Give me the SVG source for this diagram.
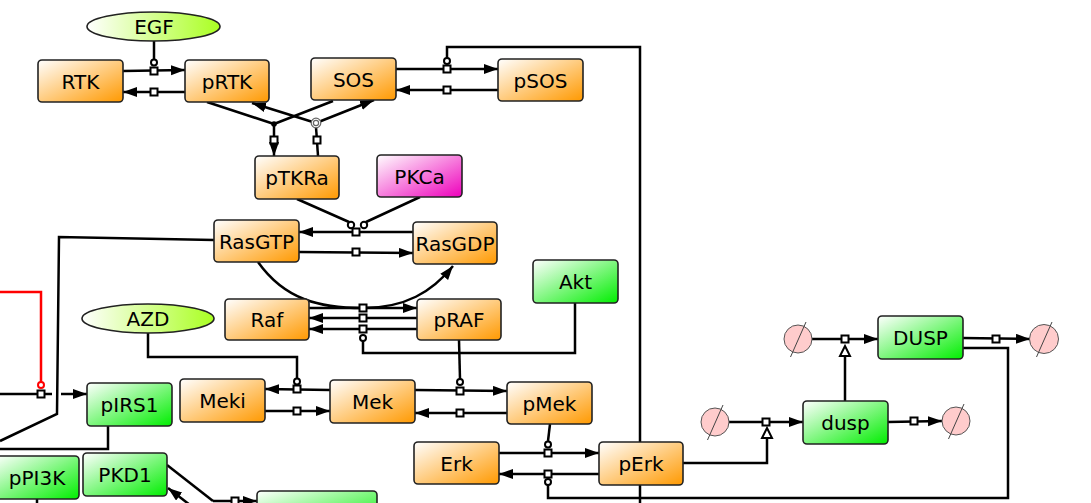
<svg xmlns="http://www.w3.org/2000/svg" width="1091" height="503" viewBox="0 0 1091 503">
<defs>
<linearGradient id="gOr" x1="0" y1="0" x2="1" y2="1"><stop offset="0" stop-color="#ffffff"/><stop offset="1" stop-color="#ff9900"/></linearGradient>
<linearGradient id="gGr" x1="0" y1="0" x2="1" y2="1"><stop offset="0" stop-color="#ffffff"/><stop offset="1" stop-color="#00ee00"/></linearGradient>
<linearGradient id="gMa" x1="0" y1="0" x2="1" y2="1"><stop offset="0" stop-color="#ffffff"/><stop offset="1" stop-color="#ee00bb"/></linearGradient>
<linearGradient id="gEl" x1="0" y1="0" x2="1" y2="0"><stop offset="0" stop-color="#ffffff"/><stop offset="1" stop-color="#aaff22"/></linearGradient>
<marker id="arr" markerUnits="userSpaceOnUse" markerWidth="15" markerHeight="11" refX="14" refY="5" orient="auto"><path d="M0,0 L14,5 L0,10 z" fill="#000"/></marker>
</defs>
<style>
.n rect{stroke:#222;stroke-width:1.6}
.or{fill:url(#gOr)}.gr{fill:url(#gGr)}.ma{fill:url(#gMa)}
.el{fill:url(#gEl);stroke:#222;stroke-width:1.6}
text{font-family:"DejaVu Sans",sans-serif;font-size:20px;text-anchor:middle;fill:#000}
.c path,.c line{fill:none;stroke:#000;stroke-width:2.5}
.a{marker-end:url(#arr)}
.sq{fill:#fff;stroke:#000;stroke-width:2}
.ci{fill:#fff;stroke:#000;stroke-width:2}
.dg circle{fill:#ffcccc;stroke:#555;stroke-width:1}
.dg line{stroke:#444;stroke-width:1}
</style>

<g id="connectors" class="c">
<!-- RTK / pRTK -->
<path class="a" d="M123,71 L185,70"/>
<path d="M154,41 L154,59"/>
<path class="a" d="M185,92 L123,92"/>
<!-- SOS / pSOS -->
<path class="a" d="M396,69 L498,69"/>
<path d="M447,58 L447,47 L640,47 L640,442"/>
<path class="a" d="M498,90 L396,90"/>
<!-- association -->
<path d="M207,102 L274,124 M333,101 L274,124"/>
<path class="a" d="M274,124 L274,156"/>
<!-- dissociation -->
<path d="M318,156 L316,127"/>
<path class="a" d="M316,123 L252,103"/>
<path class="a" d="M316,123 L374,100"/>
<!-- Ras -->
<path class="a" d="M413,232 L299,232"/>
<path d="M297,199 L349,222 M420,197 L366,222"/>
<path class="a" d="M299,252 L413,253"/>
<!-- Raf / pRAF -->
<path class="a" d="M309,308 L417,308"/>
<path d="M258,262 C285,300 320,308 363,308"/>
<path class="a" d="M363,308 C405,308 432,292 453,266"/>
<path class="a" d="M417,318 L309,318"/>
<path class="a" d="M417,329 L309,329"/>
<path d="M363,341 L363,353 L575,353 L575,303"/>
<!-- AZD / Meki / Mek -->
<path d="M148,333 L148,357 L297,357 L297,378"/>
<path class="a" d="M330,390 L265,389"/>
<path class="a" d="M265,411 L330,411"/>
<!-- Mek / pMek -->
<path class="a" d="M415,390 L507,391"/>
<path d="M459,340 L460,379"/>
<path class="a" d="M507,413 L415,413"/>
<!-- Erk / pErk -->
<path class="a" d="M499,453 L599,453"/>
<path d="M550,424 L548,441"/>
<path class="a" d="M599,474 L499,474"/>
<path d="M640,485 L640,503"/>
<path d="M548,485 L548,498 L1008,498 L1008,348 L963,348"/>
<!-- dusp -->
<path class="a" d="M729,422 L803,422"/>
<path d="M683,463 L767,463 L767,438"/>
<path class="a" d="M888,422 L942,421"/>
<!-- DUSP -->
<path class="a" d="M812,339 L878,339"/>
<path d="M845,401 L845,356"/>
<path class="a" d="M963,338 L1030,339"/>
<!-- left side -->
<path d="M214,240 L59,237 L57,414 L0,441"/>
<path d="M0,292 L41,292 L41,382" style="stroke:#ff0000"/>
<path d="M0,394 L52,394"/>
<path class="a" d="M61,394 L87,394"/>
<path d="M108,426 L108,449 L0,449"/>
<path d="M37,499 L37,503"/>
<!-- PKD1 -->
<path d="M167,465 L213,501"/>
<path class="a" d="M213,501 L257,501"/>
<path class="a" d="M190,505 L168,488"/>

<!-- process squares -->
<rect class="sq" x="150.5" y="67.5" width="7" height="7"/>
<rect class="sq" x="150.5" y="88.5" width="7" height="7"/>
<rect class="sq" x="443.5" y="65.5" width="7" height="7"/>
<rect class="sq" x="443.5" y="86.5" width="7" height="7"/>
<rect class="sq" x="270.5" y="136.5" width="7" height="7"/>
<rect class="sq" x="313.5" y="136.5" width="7" height="7"/>
<rect class="sq" x="352.5" y="228.5" width="7" height="7"/>
<rect class="sq" x="352.5" y="248.5" width="7" height="7"/>
<rect class="sq" x="359.5" y="304.5" width="7" height="7"/>
<rect class="sq" x="359.5" y="314.5" width="7" height="7"/>
<rect class="sq" x="359.5" y="325.5" width="7" height="7"/>
<rect class="sq" x="293.5" y="385.5" width="7" height="7"/>
<rect class="sq" x="293.5" y="407.5" width="7" height="7"/>
<rect class="sq" x="456.5" y="387.5" width="7" height="7"/>
<rect class="sq" x="456.5" y="409.5" width="7" height="7"/>
<rect class="sq" x="544.5" y="449.5" width="7" height="7"/>
<rect class="sq" x="544.5" y="470.5" width="7" height="7"/>
<rect class="sq" x="762.5" y="418.5" width="7" height="7"/>
<rect class="sq" x="910.5" y="417.5" width="7" height="7"/>
<rect class="sq" x="841.5" y="335.5" width="7" height="7"/>
<rect class="sq" x="992.5" y="335.5" width="7" height="7"/>
<rect class="sq" x="37.5" y="390.5" width="7" height="7"/>
<rect class="sq" x="231.5" y="497.5" width="7" height="7"/>

<!-- catalysis circles -->
<circle class="ci" cx="154" cy="62.5" r="3"/>
<circle class="ci" cx="447" cy="61" r="3"/>
<circle class="ci" cx="351" cy="225" r="3.2"/>
<circle class="ci" cx="364" cy="225" r="3.2"/>
<circle class="ci" cx="363" cy="338" r="3"/>
<circle class="ci" cx="297" cy="381.5" r="3"/>
<circle class="ci" cx="460" cy="382" r="3"/>
<circle class="ci" cx="548" cy="444.5" r="3"/>
<circle class="ci" cx="548" cy="482" r="3"/>
<circle cx="41" cy="385" r="3" fill="#fff" stroke="#ff0000" stroke-width="2"/>

<!-- junctions -->
<circle cx="274" cy="124" r="2.8" fill="#000"/>
<circle cx="316" cy="123" r="4.8" fill="#fff" stroke="#666" stroke-width="1.2"/>
<circle cx="316" cy="123" r="2.6" fill="#fff" stroke="#666" stroke-width="1.2"/>

<!-- stimulation triangles -->
<polygon points="767,428 772,438 762,438" fill="#fff" stroke="#000" stroke-width="2"/>
<polygon points="845,346 850,356 840,356" fill="#fff" stroke="#000" stroke-width="2"/>
</g>

<g id="degradations" class="dg">
<g id="sink1"><circle cx="798" cy="339" r="14"/><line x1="790.5" y1="357" x2="806" y2="322"/></g>
<g id="sink2"><circle cx="1044" cy="339" r="14.5"/><line x1="1036.5" y1="357" x2="1052" y2="322"/></g>
<g id="sink3"><circle cx="715" cy="422" r="14"/><line x1="707.5" y1="440" x2="723" y2="405"/></g>
<g id="sink4"><circle cx="956" cy="421" r="14"/><line x1="948.5" y1="439" x2="964" y2="404"/></g>
</g>

<g id="EGF" class="n"><ellipse class="el" cx="153.5" cy="26.5" rx="66.5" ry="14.5"/><text x="154" y="34">EGF</text></g>
<g id="AZD" class="n"><ellipse class="el" cx="148" cy="318.5" rx="66" ry="14.5"/><text x="148" y="326">AZD</text></g>
<g id="RTK" class="n"><rect class="or" x="38" y="60" width="85" height="42" rx="4"/><text x="80.5" y="88.5">RTK</text></g>
<g id="pRTK" class="n"><rect class="or" x="185" y="60" width="84" height="42" rx="4"/><text x="227" y="88.5">pRTK</text></g>
<g id="SOS" class="n"><rect class="or" x="311" y="58" width="85" height="42" rx="4"/><text x="353.5" y="86.5">SOS</text></g>
<g id="pSOS" class="n"><rect class="or" x="498" y="59" width="85" height="42" rx="4"/><text x="540.5" y="87.5">pSOS</text></g>
<g id="pTKRa" class="n"><rect class="or" x="255" y="156" width="84" height="43" rx="4"/><text x="297" y="185">pTKRa</text></g>
<g id="PKCa" class="n"><rect class="ma" x="377" y="155" width="85" height="42" rx="4"/><text x="419.5" y="183.5">PKCa</text></g>
<g id="RasGTP" class="n"><rect class="or" x="214" y="220" width="85" height="42" rx="4"/><text x="256.5" y="248.5">RasGTP</text></g>
<g id="RasGDP" class="n"><rect class="or" x="413" y="222" width="84" height="42" rx="4"/><text x="455" y="250.5">RasGDP</text></g>
<g id="Raf" class="n"><rect class="or" x="225" y="299" width="84" height="41" rx="4"/><text x="267" y="327">Raf</text></g>
<g id="pRAF" class="n"><rect class="or" x="417" y="299" width="84" height="41" rx="4"/><text x="459" y="327">pRAF</text></g>
<g id="Akt" class="n"><rect class="gr" x="533" y="260" width="85" height="43" rx="4"/><text x="575.5" y="289">Akt</text></g>
<g id="Meki" class="n"><rect class="or" x="180" y="379" width="85" height="43" rx="4"/><text x="222.5" y="408">Meki</text></g>
<g id="Mek" class="n"><rect class="or" x="330" y="380" width="85" height="43" rx="4"/><text x="372.5" y="409">Mek</text></g>
<g id="pMek" class="n"><rect class="or" x="507" y="382" width="85" height="42" rx="4"/><text x="549.5" y="410.5">pMek</text></g>
<g id="Erk" class="n"><rect class="or" x="414" y="442" width="85" height="42" rx="4"/><text x="456.5" y="470.5">Erk</text></g>
<g id="pErk" class="n"><rect class="or" x="599" y="442" width="84" height="43" rx="4"/><text x="641" y="471">pErk</text></g>
<g id="pIRS1" class="n"><rect class="gr" x="87" y="383" width="85" height="43" rx="4"/><text x="129.5" y="412">pIRS1</text></g>
<g id="pPI3K" class="n"><rect class="gr" x="-5" y="456" width="84" height="43" rx="4"/><text x="37" y="485">pPI3K</text></g>
<g id="PKD1" class="n"><rect class="gr" x="83" y="453" width="84" height="43" rx="4"/><text x="125" y="482">PKD1</text></g>
<g id="node_bottom" class="n"><rect class="gr" x="257" y="491" width="120" height="40" rx="4"/></g>
<g id="DUSP" class="n"><rect class="gr" x="878" y="316" width="85" height="43" rx="4"/><text x="920.5" y="345">DUSP</text></g>
<g id="dusp" class="n"><rect class="gr" x="803" y="401" width="85" height="43" rx="4"/><text x="845.5" y="430">dusp</text></g>
</svg>
